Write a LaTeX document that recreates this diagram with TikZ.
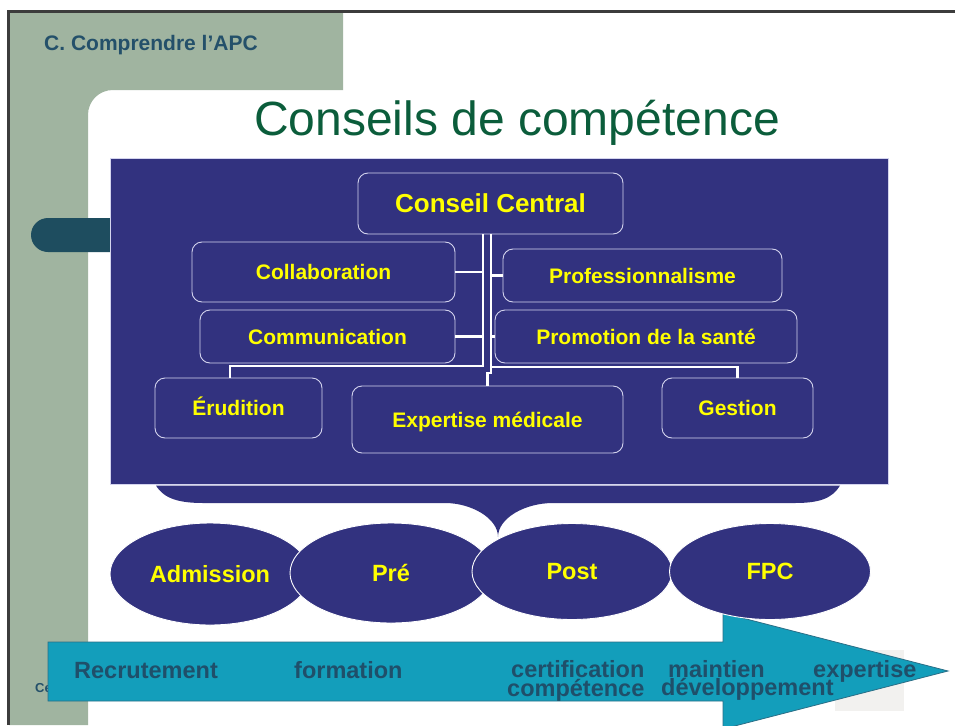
\documentclass[tikz,border=0pt]{standalone}
\usepackage{fontspec}
\setmainfont{Liberation Sans}
\usetikzlibrary{shapes.geometric}
\definecolor{panel}{HTML}{A0B4A0}
\definecolor{framec}{HTML}{3C3C3C}
\definecolor{pillc}{HTML}{1E4D5F}
\definecolor{hdr}{HTML}{24506A}
\definecolor{ttl}{HTML}{0B5D3B}
\definecolor{navy}{HTML}{32327F}
\definecolor{boxline}{HTML}{D4D4EE}
\definecolor{yel}{HTML}{FFFF00}
\definecolor{tealc}{HTML}{139EBB}
\definecolor{tealline}{HTML}{2A6E86}
\definecolor{arrtxt}{HTML}{1F4F6A}
\definecolor{pale}{HTML}{F2F1EF}
\begin{document}
\begin{tikzpicture}[x=1pt,y=-1pt,
 box/.style={draw=boxline, line width=0.9pt, fill=navy, rounded corners=10pt, inner sep=0pt, text=yel, font=\bfseries\fontsize{21}{24}\selectfont, text height=15pt, text depth=0pt, align=center},
 oval/.style={ellipse, draw=white, line width=0.9pt, fill=navy, inner sep=0pt, text=yel, font=\bfseries\fontsize{23.5}{26}\selectfont, text height=16.8pt, text depth=0pt},
 wire/.style={white, line width=2.6pt},
 steplbl/.style={anchor=base west, inner sep=0pt, text=arrtxt, font=\bfseries\fontsize{23.5}{26}\selectfont}
]
\useasboundingbox (0,0) rectangle (955,725);
\clip (0,0) rectangle (955,725);
\fill[white] (0,0) rectangle (955,725);
% green L panel
\fill[panel] (9,12) -- (343,12) -- (343,90) -- (113,90) .. controls (99,90) and (88,101) .. (88,115) -- (88,725) -- (9,725) -- cycle;
\draw[framec, line width=2.6pt] (8.5,725) -- (8.5,11.5) -- (955,11.5);
\node[anchor=base west, inner sep=0pt, text=hdr, font=\bfseries\fontsize{21}{24}\selectfont] (hd) at (44,51) {C. Comprendre l’APC};
\node[anchor=base, inner sep=0pt, text=ttl, font=\fontsize{48}{52}\selectfont] (title) at (517,135) {Conseils de compétence};
% pill
\fill[pillc, rounded corners=17pt] (31,218) rectangle (140,252);
% big navy panel
\filldraw[fill=navy, draw=boxline, line width=0.8pt] (110,158) rectangle (888,484);
% brace
\fill[navy] (156,485.5) -- (840,485.5) .. controls (832,499) and (818,503) .. (795,503) -- (553,503)
  .. controls (525,503) and (498,518) .. (498,537)
  .. controls (498,518) and (471,503) .. (445,503) -- (203,503)
  .. controls (180,503) and (164,499) .. (156,485.5) -- cycle;
% boxes
\node[box, minimum width=265pt, minimum height=61pt, font=\bfseries\fontsize{26}{30}\selectfont, text height=18.6pt] (cc) at (490.5,203.5) {Conseil Central};
\node[box, minimum width=263pt, minimum height=60pt] (col) at (323.5,272) {Collaboration};
\node[box, minimum width=255pt, minimum height=53pt] (com) at (327.5,336.5) {Communication};
\node[box, minimum width=167pt, minimum height=60pt] (eru) at (238.5,408) {Érudition};
\node[box, minimum width=271pt, minimum height=67pt] (exp) at (487.5,419.5) {Expertise médicale};
\node[box, minimum width=279pt, minimum height=53pt] (pro) at (642.5,275.5) {Professionnalisme};
\node[box, minimum width=302pt, minimum height=53pt] (prm) at (646,336.5) {Promotion de la santé};
\node[box, minimum width=151pt, minimum height=60pt] (ges) at (737.5,408) {Gestion};
% connectors
\coordinate (jl) at (483,366);
\coordinate (jr) at (491,367);
\draw[wire] (cc.south -| jl) -- (jl) -| ([xshift=-8.5pt]eru.north);
\draw[wire] (col.east) -- (col.east -| jl);
\draw[wire] (com.east) -- (com.east -| jl);
\draw[wire] (cc.south -| jr) -- (jr) -| (ges.north);
\draw[wire] (jr) -- ++(0,6) -| (exp.north);
\draw[wire] (pro.west) -- (pro.west -| jr);
\draw[wire] (prm.west) -- (prm.west -| jr);
% footer remnants
\fill[pale] (835,650) rectangle (904,711);
\node[anchor=base west, inner sep=0pt, text=hdr, font=\bfseries\fontsize{13}{15}\selectfont] (foot) at (35,692) {Ce};
% arrow
\filldraw[fill=tealc, draw=tealline, line width=0.8pt] (48,642) -- (723,642) -- (723,613) -- (948,671) -- (723,729) -- (723,701) -- (48,701) -- cycle;
\node[steplbl] (s1) at (74,678) {Recrutement};
\node[steplbl] (s2) at (294,678) {formation};
\node[steplbl] (s3) at (511,677) {certification};
\node[steplbl] (s4) at (507,696) {compétence};
\node[steplbl] (s5) at (668,677) {maintien};
\node[steplbl] (s6) at (661,695) {développement};
\node[steplbl] (s7) at (813,677) {expertise};
% ovals
\node[oval, minimum width=200pt, minimum height=102pt] (adm) at (210,574) {Admission};
\node[oval, minimum width=202pt, minimum height=100pt] (pre) at (391,573) {Pré};
\node[oval, minimum width=200pt, minimum height=96pt] (post) at (572,571.5) {Post};
\node[oval, minimum width=201pt, minimum height=96pt] (fpc) at (770,571.5) {FPC};
\end{tikzpicture}
\end{document}
